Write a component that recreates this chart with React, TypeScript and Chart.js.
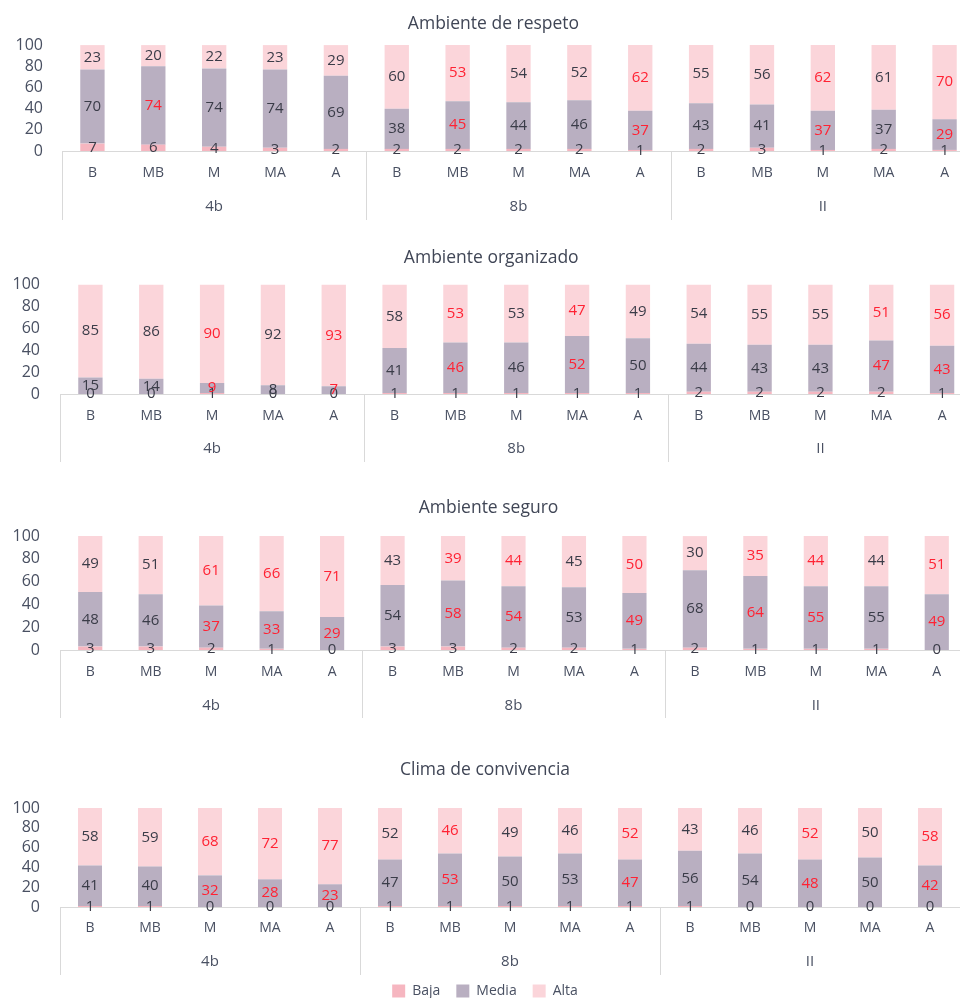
import React, { useEffect, useRef } from 'react';
import { Chart, registerables } from 'chart.js';

Chart.register(...registerables);

// ---------- data ----------
const levels = ['B', 'MB', 'M', 'MA', 'A'];
const groups = ['4b', '8b', 'II'];
const categories = groups.flatMap(() => levels);
const seriesNames = ['Baja', 'Media', 'Alta'];

const respetoBaja = [7, 6, 4, 3, 2, 2, 2, 2, 2, 1, 2, 3, 1, 2, 1];
const respetoMedia = [70, 74, 74, 74, 69, 38, 45, 44, 46, 37, 43, 41, 37, 37, 29];
const respetoAlta = [23, 20, 22, 23, 29, 60, 53, 54, 52, 62, 55, 56, 62, 61, 70];
const respetoMediaRed = [0, 1, 0, 0, 0, 0, 1, 0, 0, 1, 0, 0, 1, 0, 1];
const respetoAltaRed = [0, 0, 0, 0, 0, 0, 1, 0, 0, 1, 0, 0, 1, 0, 1];

const organizadoBaja = [0, 0, 1, 0, 0, 1, 1, 1, 1, 1, 2, 2, 2, 2, 1];
const organizadoMedia = [15, 14, 9, 8, 7, 41, 46, 46, 52, 50, 44, 43, 43, 47, 43];
const organizadoAlta = [85, 86, 90, 92, 93, 58, 53, 53, 47, 49, 54, 55, 55, 51, 56];
const organizadoMediaRed = [0, 0, 1, 0, 1, 0, 1, 0, 1, 0, 0, 0, 0, 1, 1];
const organizadoAltaRed = [0, 0, 1, 0, 1, 0, 1, 0, 1, 0, 0, 0, 0, 1, 1];

const seguroBaja = [3, 3, 2, 1, 0, 3, 3, 2, 2, 1, 2, 1, 1, 1, 0];
const seguroMedia = [48, 46, 37, 33, 29, 54, 58, 54, 53, 49, 68, 64, 55, 55, 49];
const seguroAlta = [49, 51, 61, 66, 71, 43, 39, 44, 45, 50, 30, 35, 44, 44, 51];
const seguroMediaRed = [0, 0, 1, 1, 1, 0, 1, 1, 0, 1, 0, 1, 1, 0, 1];
const seguroAltaRed = [0, 0, 1, 1, 1, 0, 1, 1, 0, 1, 0, 1, 1, 0, 1];

const climaBaja = [1, 1, 0, 0, 0, 1, 1, 1, 1, 1, 1, 0, 0, 0, 0];
const climaMedia = [41, 40, 32, 28, 23, 47, 53, 50, 53, 47, 56, 54, 48, 50, 42];
const climaAlta = [58, 59, 68, 72, 77, 52, 46, 49, 46, 52, 43, 46, 52, 50, 58];
const climaMediaRed = [0, 0, 1, 1, 1, 0, 1, 0, 0, 1, 0, 0, 1, 0, 1];
const climaAltaRed = [0, 0, 1, 1, 1, 0, 1, 0, 0, 1, 0, 0, 1, 0, 1];

const noRed = categories.map(() => 0);

// ---------- styles ----------
const FONT = "'Open Sans', 'DejaVu Sans', sans-serif";
const COLORS = ['#F6B6C0', '#B9AFC1', '#FBD5DA'];
const TEXT = '#495062';
const LABEL_DARK = '#3A3C48';
const LABEL_RED = '#FF2233';
const LINE = '#D9D9D9';

const barLabels = {
  id: 'barLabels',
  afterDatasetsDraw(chart: any) {
    const ctx = chart.ctx;
    ctx.save();
    ctx.font = `15px ${FONT}`;
    ctx.textAlign = 'center';
    ctx.textBaseline = 'middle';
    chart.data.datasets.forEach((ds: any, i: number) => {
      const meta = chart.getDatasetMeta(i);
      meta.data.forEach((el: any, j: number) => {
        const { x, y, base } = el.getProps(['x', 'y', 'base'], true);
        ctx.fillStyle = ds.red && ds.red[j] ? LABEL_RED : LABEL_DARK;
        ctx.fillText(String(ds.data[j]), x, (y + base) / 2);
      });
    });
    ctx.restore();
  },
};

const groupLines = {
  id: 'groupLines',
  afterDraw(chart: any) {
    const x = chart.scales.x;
    const x2 = chart.scales.x2;
    const ctx = chart.ctx;
    const n = chart.data.labels.length;
    const per = n / groups.length;
    const half = (x.getPixelForValue(1) - x.getPixelForValue(0)) / 2;
    ctx.save();
    ctx.strokeStyle = LINE;
    ctx.lineWidth = 1;
    for (let g = 0; g <= groups.length; g++) {
      const idx = g * per;
      const px = idx < n ? x.getPixelForValue(idx) - half : x.right;
      const xx = Math.round(px) + 0.5;
      ctx.beginPath();
      ctx.moveTo(xx, x.top);
      ctx.lineTo(xx, x2.bottom);
      ctx.stroke();
    }
    ctx.restore();
  },
};

type PanelCfg = {
  title: string;
  baja: number[];
  media: number[];
  alta: number[];
  mediaRed: number[];
  altaRed: number[];
  top: number;
  width: number;
  height: number;
  padL: number;
  padR: number;
  padB: number;
  titlePad: { top: number; bottom: number };
  xH: number;
  xPad: number;
  x2H: number;
  x2Pad: number;
  yPad: number;
  legend: boolean;
};

const panels: PanelCfg[] = [
  {
    title: 'Ambiente de respeto',
    baja: respetoBaja, media: respetoMedia, alta: respetoAlta,
    mediaRed: respetoMediaRed, altaRed: respetoAltaRed,
    top: 0, width: 980, height: 222, padL: 12, padR: 5, padB: 2,
    titlePad: { top: 13.8, bottom: 10.3 },
    xH: 36, xPad: 13.6, x2H: 33, x2Pad: 11, yPad: 19, legend: false,
  },
  {
    title: 'Ambiente organizado',
    baja: organizadoBaja, media: organizadoMedia, alta: organizadoAlta,
    mediaRed: organizadoMediaRed, altaRed: organizadoAltaRed,
    top: 232, width: 980, height: 232, padL: 10, padR: 7.5, padB: 2,
    titlePad: { top: 15.8, bottom: 15.8 },
    xH: 36, xPad: 13.6, x2H: 32, x2Pad: 10, yPad: 20, legend: false,
  },
  {
    title: 'Ambiente seguro',
    baja: seguroBaja, media: seguroMedia, alta: seguroAlta,
    mediaRed: seguroMediaRed, altaRed: seguroAltaRed,
    top: 482, width: 980, height: 238, padL: 10, padR: 13, padB: 2,
    titlePad: { top: 15.8, bottom: 17.3 },
    xH: 36, xPad: 13.6, x2H: 32, x2Pad: 11, yPad: 20, legend: false,
  },
  {
    title: 'Clima de convivencia',
    baja: climaBaja, media: climaMedia, alta: climaAlta,
    mediaRed: climaMediaRed, altaRed: climaAltaRed,
    top: 742, width: 992, height: 266, padL: 10, padR: 32, padB: 0,
    titlePad: { top: 17.8, bottom: 27.3 },
    xH: 35, xPad: 12.6, x2H: 33, x2Pad: 11, yPad: 20, legend: true,
  },
];

function Panel({ cfg }: { cfg: PanelCfg }) {
  const ref = useRef<HTMLCanvasElement | null>(null);
  useEffect(() => {
    if (!ref.current) return;
    const values = [cfg.baja, cfg.media, cfg.alta];
    const reds = [noRed, cfg.mediaRed, cfg.altaRed];
    const chart = new Chart(ref.current, {
      type: 'bar',
      data: {
        labels: categories,
        datasets: seriesNames.map((name, i) => ({
          label: name,
          data: values[i],
          backgroundColor: COLORS[i],
          borderWidth: 0,
          barPercentage: 0.4,
          categoryPercentage: 1.0,
          red: reds[i],
        })) as any,
      },
      options: {
        responsive: false,
        animation: false,
        events: [],
        layout: { padding: { left: cfg.padL, right: cfg.padR, top: 0, bottom: cfg.padB } },
        scales: {
          x: {
            stacked: true,
            offset: true,
            grid: { display: false, drawTicks: false },
            border: { display: true, color: LINE, width: 1 },
            ticks: {
              color: TEXT,
              padding: cfg.xPad,
              maxRotation: 0,
              autoSkip: false,
              font: { family: FONT, size: 14 },
            },
            afterFit: (s: any) => { s.height = cfg.xH; },
          },
          x2: {
            type: 'category',
            labels: groups,
            position: 'bottom',
            weight: 1,
            offset: true,
            grid: { display: false, drawTicks: false },
            border: { display: false },
            ticks: {
              color: TEXT,
              padding: cfg.x2Pad,
              maxRotation: 0,
              font: { family: FONT, size: 15 },
            },
            afterFit: (s: any) => { s.height = cfg.x2H; },
          },
          y: {
            stacked: true,
            min: 0,
            max: 100,
            grid: { display: false, drawTicks: false },
            border: { display: false },
            ticks: {
              stepSize: 20,
              autoSkip: false,
              color: TEXT,
              padding: cfg.yPad,
              font: { family: FONT, size: 16 },
            },
            afterFit: (s: any) => { s.width = 50; },
          },
        } as any,
        plugins: {
          title: {
            display: true,
            text: cfg.title,
            color: '#404656',
            font: { family: FONT, size: 17.5, weight: 'normal' },
            padding: cfg.titlePad,
          },
          legend: {
            display: cfg.legend,
            position: 'bottom',
            labels: {
              color: TEXT,
              font: { family: FONT, size: 14 },
              boxWidth: 13,
              boxHeight: 13,
              padding: 16,
            },
            title: {
              display: true,
              text: '',
              font: { size: 10 },
              padding: { top: -19, bottom: 0 },
            },
          } as any,
          tooltip: { enabled: false },
        },
      },
      plugins: [barLabels, groupLines],
    });
    return () => chart.destroy();
  }, [cfg]);
  return (
    <canvas
      ref={ref}
      width={cfg.width}
      height={cfg.height}
      style={{ position: 'absolute', left: 0, top: cfg.top, width: cfg.width, height: cfg.height }}
    />
  );
}

export default function App() {
  return (
    <div
      style={{
        position: 'fixed',
        left: 0,
        top: 0,
        width: 960,
        height: 998,
        overflow: 'hidden',
        background: '#ffffff',
      }}
    >
      {panels.map((p) => (
        <Panel key={p.title} cfg={p} />
      ))}
    </div>
  );
}
